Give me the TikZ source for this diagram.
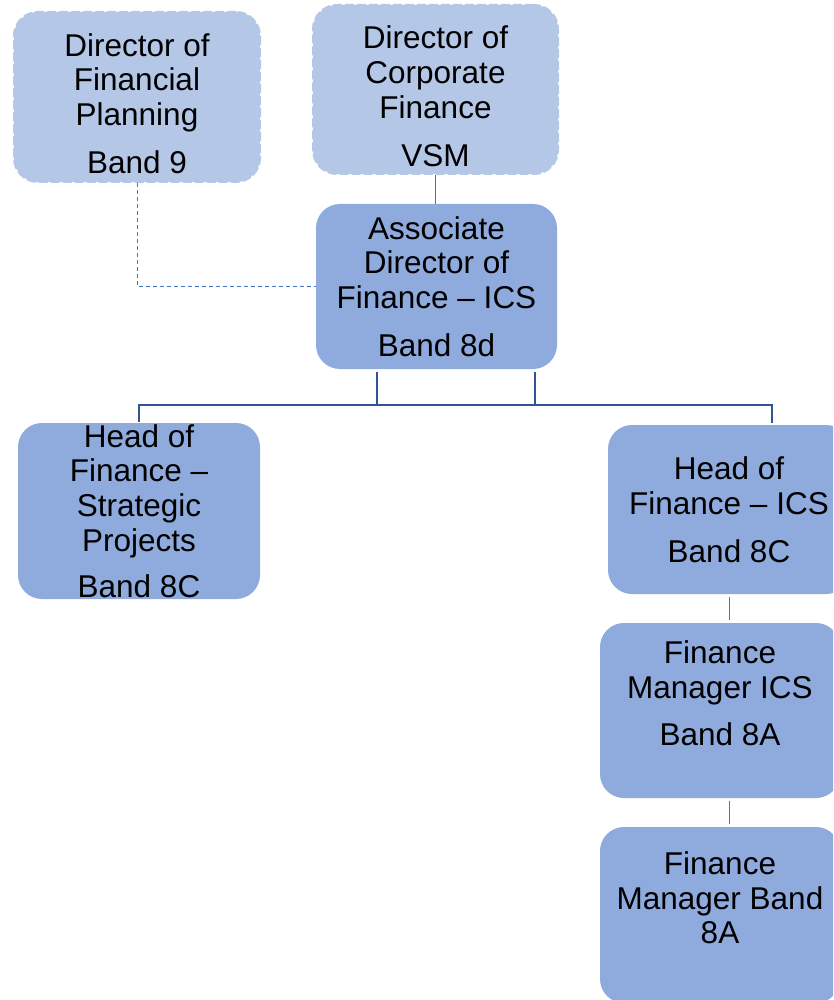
\documentclass[tikz,border=0pt]{standalone}
\usepackage{fontspec}
\setmainfont{Liberation Sans}
\usetikzlibrary{positioning, calc}
\definecolor{boxlight}{HTML}{B4C7E7}
\definecolor{boxmid}{HTML}{8FAADC}
\definecolor{linkblue}{HTML}{4472C4}
\definecolor{busblue}{HTML}{2F5597}

\begin{document}
\begin{tikzpicture}[
  x=1pt, y=-1pt,
  font=\fontsize{31.5}{34.8}\selectfont,
  post/.style={fill=boxmid, rounded corners=24pt, inner sep=0pt,
               minimum width=242pt, minimum height=170pt, align=center},
  dirpost/.style={post, fill=boxlight, draw=boxlight,
                  dash pattern=on 9pt off 3pt, line width=2pt},
  link/.style={draw=linkblue, line width=1pt},
  dotlink/.style={link, dash pattern=on 4pt off 3pt},
  bus/.style={draw=busblue, line width=2.4pt}
]
  \useasboundingbox (0,0) rectangle (833,1000);
  \clip (0,0) rectangle (833,1000);

  %--- directors (dashed outline) ---
  \node[dirpost, minimum width=246pt] (dfp) at (137,97)
    {\rule{0pt}{36pt}Director of\\Financial\\Planning\\[13pt]Band 9};
  \node[dirpost, minimum width=245pt, minimum height=169pt] (dcf) at (435.5,89.5)
    {\rule{0pt}{36pt}Director of\\Corporate\\Finance\\[13pt]VSM};

  %--- associate director ---
  \node[post, minimum width=241pt, minimum height=165pt] (adf) at (436.5,286.5)
    {Associate\\Director of\\Finance -- ICS\\[13pt]Band 8d};

  %--- heads of finance ---
  \node[post, minimum height=176pt] (hfsp) at (139,511)
    {Head of\\Finance --\\Strategic\\Projects\\[11pt]Band 8C};
  \node[post, minimum height=169pt] (hfics) at (729,509.5)
    {Head of\\Finance -- ICS\\[13pt]Band 8C};

  %--- finance managers ---
  \node[post, minimum width=240pt, minimum height=175pt] (fmics) at (720,710.5)
    {Finance\\Manager ICS\\[13pt]Band 8A\\\mbox{}};
  \node[post, minimum width=240pt, minimum height=176pt] (fmband) at (720,915)
    {Finance\\Manager Band\\8A\\\mbox{}};

  %--- reporting lines ---
  \draw[link] (dcf.south) -- (dcf.south |- adf.north);
  \draw[dotlink] (dfp.south) |- (adf.west);
  \draw[bus] ([xshift=98.5pt,yshift=-3pt]adf.south) -- ++(0,33)
    -| ([yshift=1pt]hfsp.north);
  \draw[bus] ([xshift=-59.5pt,yshift=-3pt]adf.south) -- ++(0,33)
    -| ([xshift=43pt,yshift=2pt]hfics.north);
  \draw[link, shorten <=3pt, shorten >=3pt]
    (hfics.south) -- (hfics.south |- fmics.north);
  \draw[link, shorten <=3pt, shorten >=3pt]
    (fmics.south -| hfics.south) -- (fmband.north -| hfics.south);

\end{tikzpicture}
\end{document}
